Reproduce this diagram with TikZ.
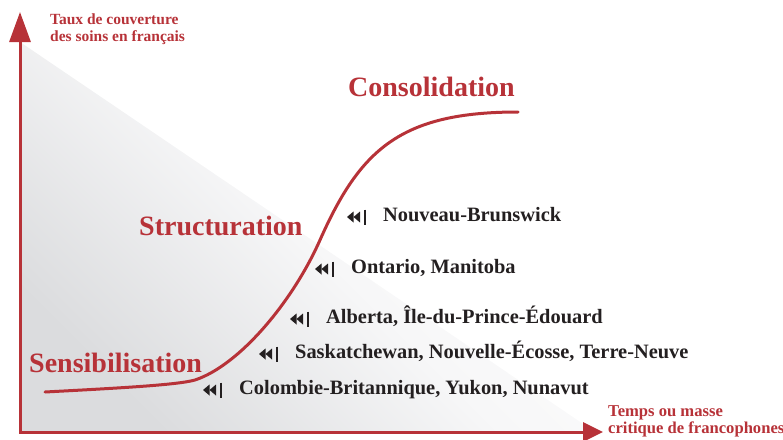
\documentclass[tikz,border=0pt]{standalone}
\usepackage{fontspec}
\setmainfont{Liberation Serif}
\usetikzlibrary{arrows.meta}

\definecolor{curvered}{RGB}{183,50,56}
\definecolor{labelgray}{RGB}{35,31,32}
\definecolor{shadegray}{RGB}{219,220,222}
\definecolor{edgegray}{RGB}{247,247,248}

\begin{document}
\begin{tikzpicture}[x=1pt, y=-1pt,
  axisline/.style={curvered, line width=3pt},
  phase/.style={anchor=base west, inner sep=0pt, text=curvered,
    font=\fontsize{28}{30}\selectfont\bfseries},
  province/.style={anchor=base west, inner sep=0pt, text=labelgray,
    font=\fontsize{20.4}{22}\selectfont\bfseries},
  axislabel/.style={anchor=north west, inner sep=0pt, align=left, text=curvered,
    font=\fontsize{15.5}{16.5}\selectfont\bfseries},
  rewind/.pic={
    \fill[labelgray] (-18,0) -- (-11.5,-5.5) -- (-11.5,5.5) -- cycle;
    \fill[labelgray] (-11.5,0) -- (-5,-5.5) -- (-5,5.5) -- cycle;
    \draw[labelgray, line width=1.1pt] (0,-7.5) -- (0,7.5);
  }]
  \useasboundingbox (0,0) rectangle (783,439);

  % Shaded background
  \shade[top color=white, bottom color=shadegray, middle color=edgegray, shading angle=-45]
    (20,42) -- (20,432) -- (595,432) -- cycle;

  % Axes
  \coordinate (origin) at (20,432);
  \coordinate (ytip) at (20,12);
  \coordinate (xtip) at (603,432);
  \draw[axisline, {Triangle[length=30pt, width=21pt]}-{Triangle[length=20pt, width=19pt]}]
    (ytip) -- (origin) -- (xtip);
  \node[axislabel] (ylabel) at (50,14) {Taux de couverture\\des soins en français};
  \node[axislabel, font=\fontsize{16.6}{17}\selectfont\bfseries] (xlabel) at (608,405)
    {Temps ou masse\\critique de francophones};

  % S-curve
  \draw[curvered, line width=3pt, line cap=round]
    (45,392) .. controls (120,388) and (177,385) .. (195,380)
    .. controls (240,365) and (293,301) .. (320,240)
    .. controls (360,150) and (400,112) .. (518,112);

  % Phases
  \node[phase] (consolidation) at (348,96) {Consolidation};
  \node[phase] (structuration) at (139,235) {Structuration};
  \node[phase] (sensibilisation) at (29,372) {Sensibilisation};

  % Provinces
  \node[province] (nb) at (383,221) {Nouveau-Brunswick};
  \node[province] (onmb) at (351,273) {Ontario, Manitoba};
  \node[province] (abpe) at (326,323) {Alberta, Île-du-Prince-Édouard};
  \node[province] (sknsnl) at (295,358) {Saskatchewan, Nouvelle-Écosse, Terre-Neuve};
  \node[province] (bcyknu) at (239,394) {Colombie-Britannique, Yukon, Nunavut};
  \foreach \p in {nb,onmb,abpe,sknsnl,bcyknu}
    \pic at ([xshift=-18pt, yshift=4pt]\p.base west) {rewind};

\end{tikzpicture}
\end{document}
